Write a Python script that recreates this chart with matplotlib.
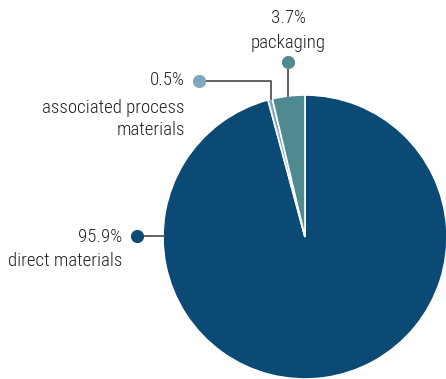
import matplotlib
matplotlib.use("Agg")
import matplotlib.pyplot as plt

labels = ["direct materials", "associated process\nmaterials", "packaging"]
values = [95.9, 0.5, 3.7]
pct_labels = ["95.9%", "0.5%", "3.7%"]
colors = ["#0b4a75", "#7fa8bf", "#4e8a90"]

W, H = 446, 379
fig = plt.figure(figsize=(W / 100, H / 100), dpi=100)
ax = fig.add_axes([0, 0, 1, 1])

cx, cy, r = 305, H - 237, 142
ax.pie(values, colors=colors, startangle=90, counterclock=False,
       center=(cx, cy), radius=r, frame=True,
       wedgeprops=dict(edgecolor="white", linewidth=1.2))
ax.set_xlim(0, W)
ax.set_ylim(0, H)
ax.set_aspect("equal")
ax.axis("off")

font = dict(family="Roboto Condensed", fontweight="light", color="#222222", fontsize=13.6)
lc = "#555555"

def py(y):
    return H - y

# packaging
ax.plot([288, 288], [py(62), py(96)], color=lc, lw=1.3, zorder=1)
ax.scatter([288], [py(62)], s=90, color=colors[2], zorder=3, linewidths=0)
ax.text(288, py(18), pct_labels[2], ha="center", va="center", **font)
ax.text(288, py(43), labels[2], ha="center", va="center", **font)

# associated
ax.plot([199, 271, 271], [py(81), py(81), py(99)], color=lc, lw=1.3, zorder=1)
ax.scatter([199], [py(81)], s=90, color=colors[1], zorder=3, linewidths=0)
ax.text(185, py(80), pct_labels[1], ha="right", va="center", **font)
ax.text(185, py(119), labels[1], ha="right", va="center", linespacing=1.22, **font)

# direct
ax.plot([137, 164], [py(236), py(236)], color=lc, lw=1.3, zorder=1)
ax.scatter([137], [py(236)], s=90, color=colors[0], zorder=3, linewidths=0)
ax.text(122, py(237), pct_labels[0], ha="right", va="center", **font)
ax.text(122, py(261), labels[0], ha="right", va="center", **font)

fig.savefig("out.png", dpi=100)
